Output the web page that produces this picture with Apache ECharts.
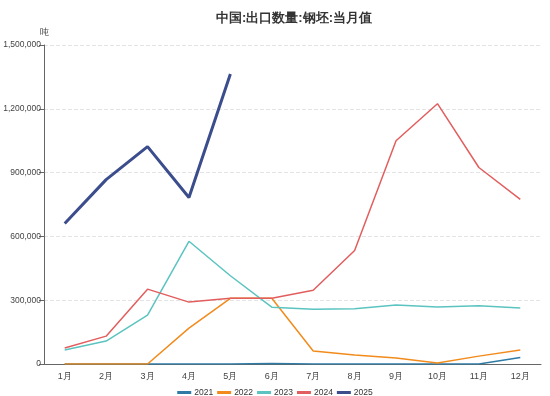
<!DOCTYPE html>
<html><head><meta charset="utf-8">
<script src="https://cdn.jsdelivr.net/npm/echarts@6/dist/echarts.min.js"></script>
<style>html,body{margin:0;padding:0;background:#fff}#c{width:550px;height:396px}</style>
</head><body><div id="c"></div>
<script>
var months = ['1月','2月','3月','4月','5月','6月','7月','8月','9月','10月','11月','12月'];
var s2021 = [0,0,0,0,0,2000,0,0,0,0,0,31000];
var s2022 = [0,0,0,169000,309000,309000,61000,42000,28000,5000,37000,66000];
var s2023 = [66000,108000,230000,577000,415000,267000,258000,260000,278000,268000,274000,263000];
var s2024 = [75000,131000,352000,291000,309000,309000,347000,534000,1050000,1224000,924000,774000];
var s2025 = [661000,867000,1022000,783000,1364000];
var names = ['2021','2022','2023','2024','2025'];
var colors = ['#2f7ba6','#f28b1c','#5bc4c0','#e25e5e','#3b4d8c'];
var chart = echarts.init(document.getElementById('c'));
function ser(i, data, w){
  return {name:names[i], type:'line', data:data, symbol:'none', smooth:false,
    lineStyle:{width:w, color:colors[i]}, itemStyle:{color:colors[i]}};
}
chart.setOption({
  animation:false,
  title:{text:'中国:出口数量:钢坯:当月值', left:211, top:7,
    textStyle:{fontSize:13, fontWeight:'bold', color:'#333'}},
  legend:{top:383, left:'center', icon:'rect', itemWidth:14, itemHeight:3, itemGap:4,
    textStyle:{fontSize:8.5,color:'#333', padding:[0,0,0,-2]}, data:names},
  grid:{left:44, right:9, top:45, bottom:32, outerBoundsMode:'none', containLabel:false},
  xAxis:{type:'category', data:months, boundaryGap:true,
    axisLine:{lineStyle:{color:'#666'}}, axisTick:{alignWithLabel:true, lineStyle:{color:'#666'}},
    axisLabel:{fontSize:9, color:'#444'}},
  yAxis:{type:'value', name:'吨', min:0, max:1500000, interval:300000,
    nameTextStyle:{fontSize:9, color:'#444', align:'center'}, nameGap:8,
    axisLine:{show:true, lineStyle:{color:'#666'}}, axisTick:{show:true, lineStyle:{color:'#666'}},
    axisLabel:{fontSize:8.5, color:'#444', margin:3, formatter:function(v){return v.toLocaleString('en-US');}},
    splitLine:{lineStyle:{type:'dashed', color:'#e4e4e4'}}},
  series:[ser(0,s2021,1.5), ser(1,s2022,1.5), ser(2,s2023,1.5), ser(3,s2024,1.5), ser(4,s2025,3)]
});
</script></body></html>
